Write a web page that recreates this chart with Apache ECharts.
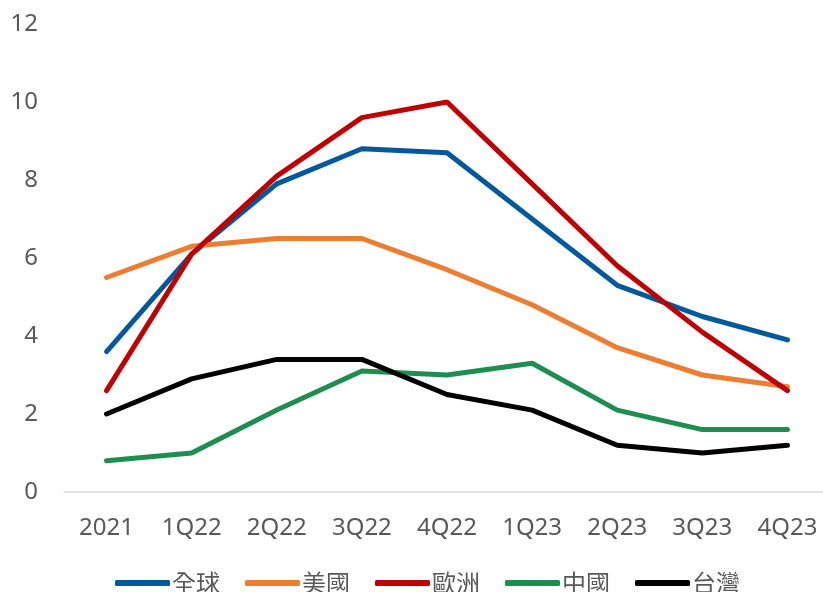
<!DOCTYPE html>
<html><head><meta charset="utf-8">
<script src="https://cdn.jsdelivr.net/npm/echarts@6/dist/echarts.min.js"></script>
<style>html,body{margin:0;padding:0;background:#fff}#c{width:823px;height:592px}</style>
</head><body><div id="c"></div>
<script>
const categories = ['2021','1Q22','2Q22','3Q22','4Q22','1Q23','2Q23','3Q23','4Q23'];
const yTicks = [0, 2, 4, 6, 8, 10, 12];
const seriesNames = ['全球','美國','歐洲','中國','台灣'];
const global = [3.6, 6.1, 7.9, 8.8, 8.7, 7.0, 5.3, 4.5, 3.9];
const usa    = [5.5, 6.3, 6.5, 6.5, 5.7, 4.8, 3.7, 3.0, 2.7];
const europe = [2.6, 6.1, 8.1, 9.6, 10.0, 7.9, 5.8, 4.1, 2.6];
const china  = [0.8, 1.0, 2.1, 3.1, 3.0, 3.3, 2.1, 1.6, 1.6];
const taiwan = [2.0, 2.9, 3.4, 3.4, 2.5, 2.1, 1.2, 1.0, 1.2];
const colors = ['#00599D','#ED7D31','#C00000','#1E8E50','#000000'];
const dataSets = [global, usa, europe, china, taiwan];

const chart = echarts.init(document.getElementById('c'));
chart.setOption({
  animation: false,
  color: colors,
  grid: { left: 64, right: -7, top: 24, bottom: 100, containLabel: false, outerBoundsMode: 'none' },
  legend: {
    left: 110, top: 566,
    itemWidth: 55, itemHeight: 6, itemGap: 25,
    icon: 'roundRect',
    textStyle: { fontFamily: 'Noto Sans CJK TC', fontSize: 24, color: '#595959', padding: [0,0,0,-3] },
    data: seriesNames
  },
  xAxis: {
    type: 'category', data: categories, boundaryGap: true,
    axisLine: { lineStyle: { color: '#D9D9D9', width: 1.5 } },
    axisTick: { show: false },
    axisLabel: { color: '#595959', fontFamily: 'Noto Sans', fontSize: 24, margin: 24 }
  },
  yAxis: {
    type: 'value', min: yTicks[0], max: yTicks[yTicks.length-1], interval: 2,
    axisLine: { show: false }, axisTick: { show: false },
    splitLine: { show: false },
    axisLabel: { color: '#595959', fontFamily: 'Noto Sans', fontSize: 24, margin: 26 }
  },
  series: dataSets.map((d, i) => ({
    name: seriesNames[i], type: 'line', data: d,
    symbol: 'none', lineStyle: { width: 5, color: colors[i], cap: 'round' },
    itemStyle: { color: colors[i] }
  }))
});
</script></body></html>
